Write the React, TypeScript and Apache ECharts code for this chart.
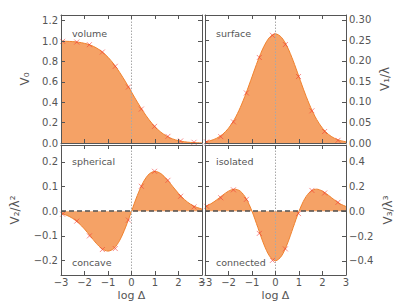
import { useEffect, useRef } from 'react';
import * as echarts from 'echarts';

// curve sample positions (log Δ)
const xGrid = [-3, -2.75, -2.5, -2.25, -2, -1.75, -1.5, -1.25, -1, -0.75, -0.5, -0.25, 0, 0.25, 0.5, 0.75, 1, 1.25, 1.5, 1.75, 2, 2.25, 2.5, 2.75, 3];
const v0Curve = [0.999, 0.997, 0.994, 0.988, 0.977, 0.960, 0.933, 0.894, 0.841, 0.773, 0.691, 0.599, 0.500, 0.401, 0.309, 0.227, 0.159, 0.106, 0.067, 0.040, 0.023, 0.012, 0.006, 0.003, 0.001];
const v1Curve = [0.0030, 0.0061, 0.0117, 0.0212, 0.0360, 0.0575, 0.0864, 0.1218, 0.1613, 0.2008, 0.2347, 0.2578, 0.2660, 0.2578, 0.2347, 0.2008, 0.1613, 0.1218, 0.0864, 0.0575, 0.0360, 0.0212, 0.0117, 0.0061, 0.0030];
const v2Curve = [-0.0089, -0.0167, -0.0292, -0.0476, -0.0720, -0.1007, -0.1296, -0.1522, -0.1613, -0.1506, -0.1174, -0.0644, 0, 0.0644, 0.1174, 0.1506, 0.1613, 0.1522, 0.1296, 0.1007, 0.0720, 0.0476, 0.0292, 0.0167, 0.0089];
const v3Curve = [0.038, 0.0599, 0.0922, 0.1293, 0.1624, 0.1784, 0.1624, 0.1030, 0, -0.1321, -0.2648, -0.3634, -0.4000, -0.3634, -0.2648, -0.1321, 0, 0.1030, 0.1624, 0.1784, 0.1624, 0.1293, 0.0922, 0.0599, 0.038];

// measured points (crosses)
const xMarks = [-2.93, -2.33, -1.79, -1.24, -0.69, -0.13, 0.42, 0.98, 1.55, 2.09, 2.66];
const v0Marks = [0.997, 0.99, 0.964, 0.892, 0.752, 0.549, 0.333, 0.163, 0.065, 0.02, 0.007];
const v1Marks = [0.0025, 0.0155, 0.0515, 0.122, 0.2085, 0.2625, 0.24, 0.162, 0.0785, 0.028, 0.0065];
const v2Marks = [-0.012, -0.04, -0.0997, -0.155, -0.151, -0.036, 0.101, 0.1616, 0.125, 0.0606, 0.0175];
const v3Marks = [0.04, 0.109, 0.173, 0.096, -0.179, -0.397, -0.304, -0.019, 0.168, 0.147, 0.072];

// tick labels
const xTicks = [-3, -2, -1, 0, 1, 2, 3];
const v0Ticks = [0, 0.2, 0.4, 0.6, 0.8, 1.0, 1.2];
const v1Ticks = [0, 0.05, 0.1, 0.15, 0.2, 0.25, 0.3];
const v2Ticks = [-0.2, -0.1, 0, 0.1, 0.2];
const v3Ticks = [-0.4, -0.2, 0, 0.2, 0.4];

const yLabels = ['V₀', 'V₁/λ', 'V₂/λ²', 'V₃/λ³'];
const notesTop = ['volume', 'surface', 'spherical', 'isolated'];
const notesBottom = ['', '', 'concave', 'connected'];

const FONT = 'DejaVu Sans';
const TXT = '#555555';
const FRAME = '#555555';
const FILL = '#F5A266';
const LINE = '#F0822E';
const MARK = 'rgba(240,50,50,0.7)';

const panels = [
  { grid: { left: 61, top: 15, width: 141, height: 128 }, min: 0, max: 1.255, ticks: v0Ticks, dec: 1, curve: v0Curve, marks: v0Marks, side: 'left', nameGap: 30, xLab: false, hline: false, label: yLabels[0] },
  { grid: { left: 205, top: 15, width: 141, height: 128 }, min: 0, max: 0.312, ticks: v1Ticks, dec: 2, curve: v1Curve, marks: v1Marks, side: 'right', nameGap: 33, xLab: false, hline: false, label: yLabels[1] },
  { grid: { left: 61, top: 145, width: 141, height: 130 }, min: -0.258, max: 0.268, ticks: v2Ticks, dec: 1, curve: v2Curve, marks: v2Marks, side: 'left', nameGap: 40, xLab: true, hline: true, label: yLabels[2] },
  { grid: { left: 205, top: 145, width: 141, height: 130 }, min: -0.515, max: 0.535, ticks: v3Ticks, dec: 1, curve: v3Curve, marks: v3Marks, side: 'right', nameGap: 36, xLab: true, hline: true, label: yLabels[3] },
];

const noteXY = [
  { top: [72, 33], bottom: [72, 262] },
  { top: [216, 33], bottom: [216, 262] },
  { top: [72, 161], bottom: [72, 262] },
  { top: [216, 161], bottom: [216, 262] },
];

const fmtMinus = (s: string) => s.replace('-', '\u2212');

function buildOption() {
  const grid: any[] = [];
  const xAxis: any[] = [];
  const yAxis: any[] = [];
  const series: any[] = [];
  const graphic: any[] = [];

  panels.forEach((p, g) => {
    grid.push({ ...p.grid, containLabel: false });
    const tickCommon = { show: true, inside: true, length: 4, lineStyle: { color: FRAME, width: 1 } };
    const lineCommon = { show: true, lineStyle: { color: FRAME, width: 1 } };
    // bottom x
    xAxis.push({
      type: 'value', gridIndex: g, position: 'bottom', min: -3, max: 3, interval: 1, z: 5,
      axisLine: { ...lineCommon, onZero: false },
      axisTick: { ...tickCommon, customValues: xTicks },
      axisLabel: { show: p.xLab, customValues: xTicks, margin: 2, fontSize: 10, color: TXT, fontFamily: FONT, formatter: (v: number) => fmtMinus(String(v)) },
      splitLine: { show: false },
      name: p.xLab ? 'log Δ' : '', nameLocation: 'middle', nameGap: 15,
      nameTextStyle: { fontSize: 11, color: TXT, fontFamily: FONT },
    });
    // top x
    xAxis.push({
      type: 'value', gridIndex: g, position: 'top', min: -3, max: 3, interval: 1, z: 5,
      axisLine: { ...lineCommon, onZero: false },
      axisTick: { ...tickCommon, customValues: xTicks },
      axisLabel: { show: false },
      splitLine: { show: false },
    });
    const other = p.side === 'left' ? 'right' : 'left';
    yAxis.push({
      type: 'value', gridIndex: g, position: p.side, min: p.min, max: p.max, z: 5,
      axisLine: { ...lineCommon, onZero: false },
      axisTick: { ...tickCommon, customValues: p.ticks },
      axisLabel: { show: true, customValues: p.ticks, margin: 3, fontSize: 10, color: TXT, fontFamily: FONT, formatter: (v: number) => fmtMinus(v.toFixed(p.dec)) },
      splitLine: { show: false },
      name: p.label, nameLocation: 'middle', nameGap: p.nameGap, nameRotate: 90,
      nameTextStyle: { fontSize: 12, color: TXT, fontFamily: FONT },
    });
    yAxis.push({
      type: 'value', gridIndex: g, position: other, min: p.min, max: p.max, z: 5,
      axisLine: { ...lineCommon, onZero: false },
      axisTick: { ...tickCommon, customValues: p.ticks },
      axisLabel: { show: false },
      splitLine: { show: false },
    });

    const markLineData: any[] = [{ xAxis: 0, lineStyle: { color: '#a8a8a8', type: [1.5, 1.5], width: 1 } }];
    if (p.hline) markLineData.push({ yAxis: 0, lineStyle: { color: '#505050', type: [5, 3], width: 1.5 } });

    series.push({
      type: 'line', xAxisIndex: 2 * g, yAxisIndex: 2 * g,
      data: xGrid.map((x, i) => [x, p.curve[i]]),
      smooth: 0.3, showSymbol: false, symbol: 'none',
      lineStyle: { color: LINE, width: 1 },
      areaStyle: { color: FILL, opacity: 1, origin: 0 },
      z: 2,
      markLine: { silent: true, symbol: 'none', label: { show: false }, data: markLineData, z: 4 },
    });
    series.push({
      type: 'scatter', xAxisIndex: 2 * g, yAxisIndex: 2 * g,
      data: xMarks.map((x, i) => [x, p.marks[i]]),
      symbol: 'path://M0,0L10,10M10,0L0,10', symbolSize: 5,
      itemStyle: { color: MARK, borderColor: MARK, borderWidth: 1 },
      z: 3,
    });

    const n = noteXY[g];
    graphic.push({ type: 'text', x: n.top[0], y: n.top[1], z: 10, style: { text: notesTop[g], fontSize: 9.5, fill: TXT, fontFamily: FONT, verticalAlign: 'middle', align: 'left' } });
    if (notesBottom[g]) {
      graphic.push({ type: 'text', x: n.bottom[0], y: n.bottom[1], z: 10, style: { text: notesBottom[g], fontSize: 9.5, fill: TXT, fontFamily: FONT, verticalAlign: 'middle', align: 'left' } });
    }
  });

  return { animation: false, backgroundColor: '#ffffff', grid, xAxis, yAxis, series, graphic };
}

export default function App() {
  const ref = useRef<HTMLDivElement>(null);
  useEffect(() => {
    const chart = echarts.init(ref.current!, null, { renderer: 'svg' });
    chart.setOption(buildOption() as any);
    return () => chart.dispose();
  }, []);
  return <div ref={ref} style={{ position: 'absolute', left: 0, top: 0, width: 407, height: 305 }} />;
}
